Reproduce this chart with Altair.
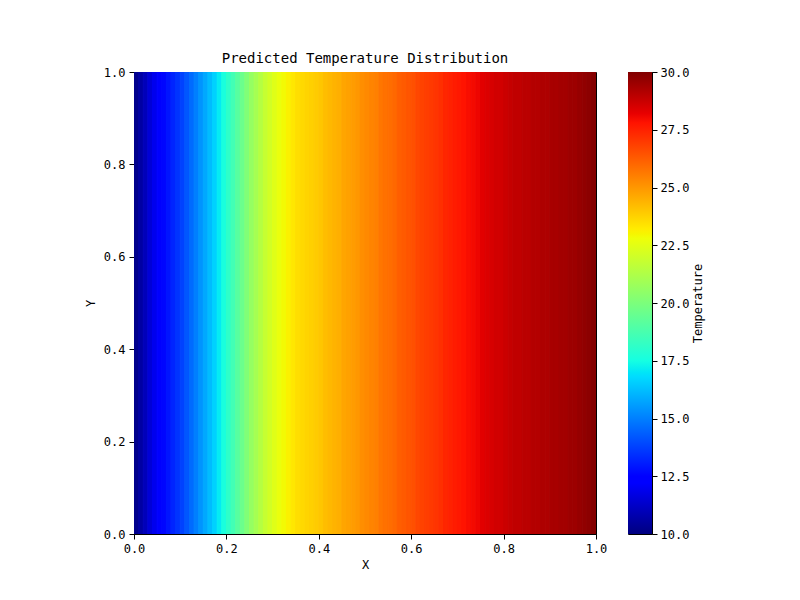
import altair as alt
import pandas as pd

# Column centres (x) and predicted temperature
x_centers = [0.005, 0.015, 0.025, 0.035, 0.045, 0.055, 0.065, 0.075, 0.085, 0.095,
             0.105, 0.115, 0.125, 0.135, 0.145, 0.155, 0.165, 0.175, 0.185, 0.195,
             0.205, 0.215, 0.225, 0.235, 0.245, 0.255, 0.265, 0.275, 0.285, 0.295,
             0.305, 0.315, 0.325, 0.335, 0.345, 0.355, 0.365, 0.375, 0.385, 0.395,
             0.405, 0.415, 0.425, 0.435, 0.445, 0.455, 0.465, 0.475, 0.485, 0.495,
             0.505, 0.515, 0.525, 0.535, 0.545, 0.555, 0.565, 0.575, 0.585, 0.595,
             0.605, 0.615, 0.625, 0.635, 0.645, 0.655, 0.665, 0.675, 0.685, 0.695,
             0.705, 0.715, 0.725, 0.735, 0.745, 0.755, 0.765, 0.775, 0.785, 0.795,
             0.805, 0.815, 0.825, 0.835, 0.845, 0.855, 0.865, 0.875, 0.885, 0.895,
             0.905, 0.915, 0.925, 0.935, 0.945, 0.955, 0.965, 0.975, 0.985, 0.995]
temps = [10.2, 10.6, 11.0, 11.5, 11.9, 12.3, 12.6, 12.9, 13.2, 13.5,
         13.8, 14.2, 14.6, 15.0, 15.4, 15.8, 16.2, 16.6, 17.1, 17.6,
         18.1, 18.6, 19.1, 19.6, 20.1, 20.6, 21.0, 21.4, 21.8, 22.1,
         22.4, 22.7, 22.9, 23.1, 23.3, 23.5, 23.6, 23.7, 23.8, 23.9,
         24.0, 24.2, 24.3, 24.4, 24.5, 24.7, 24.8, 24.9, 25.0, 25.2,
         25.3, 25.4, 25.5, 25.7, 25.8, 25.9, 26.0, 26.2, 26.3, 26.4,
         26.5, 26.7, 26.8, 26.9, 27.0, 27.1, 27.2, 27.4, 27.5, 27.6,
         27.7, 27.8, 27.9, 28.0, 28.1, 28.3, 28.4, 28.5, 28.6, 28.6,
         28.7, 28.8, 28.9, 28.9, 29.0, 29.0, 29.1, 29.1, 29.2, 29.2,
         29.3, 29.3, 29.4, 29.4, 29.5, 29.5, 29.6, 29.7, 29.8, 29.95]
half_width = 0.005

# jet colormap stops (fraction of colour range) and colours
jet_t = [0.0, 0.11, 0.125, 0.34, 0.35, 0.375, 0.64, 0.65, 0.66, 0.89, 0.91, 1.0]
jet_c = ["#000080", "#0000ff", "#0000ff", "#00dbff", "#00e6f7", "#15ffe2",
         "#efff08", "#f7f500", "#ffec00", "#ff1300", "#e80000", "#800000"]
t_min, t_max = 10.0, 30.0
cbar_ticks = [10.0, 12.5, 15.0, 17.5, 20.0, 22.5, 25.0, 27.5, 30.0]
xy_ticks = [0.0, 0.2, 0.4, 0.6, 0.8, 1.0]

FONT = "DejaVu Sans Mono"

df = pd.DataFrame({"x": x_centers, "T": temps})
df["x0"] = df["x"] - half_width
df["x1"] = df["x"] + half_width
df["y0"] = 0.0
df["y1"] = 1.0

color_scale = alt.Scale(domain=[t_min + (t_max - t_min) * t for t in jet_t],
                        range=jet_c, interpolate="rgb")

axis_common = dict(grid=False, tickColor="black", domainColor="black",
                   labelColor="black", titleColor="black", tickSize=5,
                   labelPadding=4, labelFont=FONT, titleFont=FONT,
                   labelFontSize=12, titleFontSize=12, titleFontWeight="normal",
                   values=xy_ticks, format=".1f")

heat = alt.Chart(df, title=alt.TitleParams(
    "Predicted Temperature Distribution", font=FONT, fontSize=14,
    fontWeight="normal", color="black", offset=0)).mark_rect(
    strokeWidth=1, clip=True).encode(
    x=alt.X("x0:Q", scale=alt.Scale(domain=[0, 1], nice=False, zero=False),
            axis=alt.Axis(title="X", titlePadding=5, labelFlush=False, **axis_common)),
    x2="x1:Q",
    y=alt.Y("y0:Q", scale=alt.Scale(domain=[0, 1], nice=False, zero=False),
            axis=alt.Axis(title="Y", titlePadding=6, labelFlush=False, **axis_common)),
    y2="y1:Q",
    color=alt.Color("T:Q", scale=color_scale, legend=None),
    stroke=alt.Stroke("T:Q", scale=color_scale, legend=None),
).properties(width=462, height=462)

cbar_df = pd.DataFrame({"lo": [t_min], "hi": [t_max]})
gradient = alt.LinearGradient(
    gradient="linear", x1=0, y1=1, x2=0, y2=0,
    stops=[alt.GradientStop(offset=t, color=c) for t, c in zip(jet_t, jet_c)])

cbar = alt.Chart(cbar_df).mark_rect(color=gradient).encode(
    y=alt.Y("lo:Q", scale=alt.Scale(domain=[t_min, t_max], nice=False, zero=False),
            axis=alt.Axis(orient="right", title="Temperature", titleAngle=270,
                          titleBaseline="top", titlePadding=4, grid=False,
                          tickColor="black", domainColor="black",
                          labelColor="black", titleColor="black", tickSize=5,
                          labelPadding=3, labelFont=FONT, titleFont=FONT,
                          labelFontSize=12, titleFontSize=12,
                          titleFontWeight="normal", values=cbar_ticks,
                          format=".1f", labelFlush=False)),
    y2="hi:Q",
).properties(width=24, height=462)

chart = alt.hconcat(heat, cbar, spacing=32, bounds="flush").properties(
    padding={"left": 75, "top": 43, "right": 5, "bottom": 5},
    background="white",
).configure_view(stroke="black", strokeWidth=1)

chart.save("out.html", embed_options={"renderer": "svg", "actions": False})
